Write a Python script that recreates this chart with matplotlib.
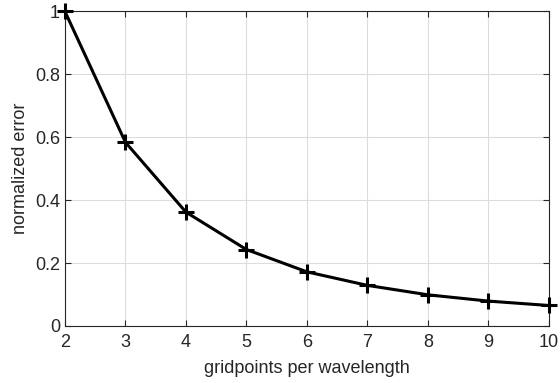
import matplotlib.pyplot as plt

# data
gridpoints = [2, 3, 4, 5, 6, 7, 8, 9, 10]
norm_error = [1.0, 0.584, 0.362, 0.243, 0.172, 0.129, 0.099, 0.079, 0.065]

plt.rcParams['font.family'] = ['Liberation Sans', 'DejaVu Sans']

fig = plt.figure(figsize=(5.6, 3.83), dpi=100)
ax = fig.add_axes([0.116, 0.149, 0.864, 0.821])

ax.plot(gridpoints, norm_error, color='black', linewidth=2.2,
        marker='+', markersize=11, markeredgewidth=2.2, clip_on=False, zorder=5)

ax.set_xlim(2, 10)
ax.set_ylim(0, 1)
ax.set_xticks(range(2, 11))
ax.set_yticks([0, 0.2, 0.4, 0.6, 0.8, 1])
ax.set_yticklabels(['0', '0.2', '0.4', '0.6', '0.8', '1'])

ax.grid(True, color='#dcdcdc', linewidth=0.8)
ax.set_axisbelow(True)
ax.tick_params(direction='in', length=4, colors='#262626', labelsize=13,
               top=True, right=True)
ax.tick_params(axis='x', pad=6)
for s in ax.spines.values():
    s.set_color('#262626')
    s.set_linewidth(0.8)

ax.set_xlabel('gridpoints per wavelength', fontsize=13, color='#262626', labelpad=6)
ax.set_ylabel('normalized error', fontsize=13, color='#262626')

fig.savefig('out.png', dpi=100)
